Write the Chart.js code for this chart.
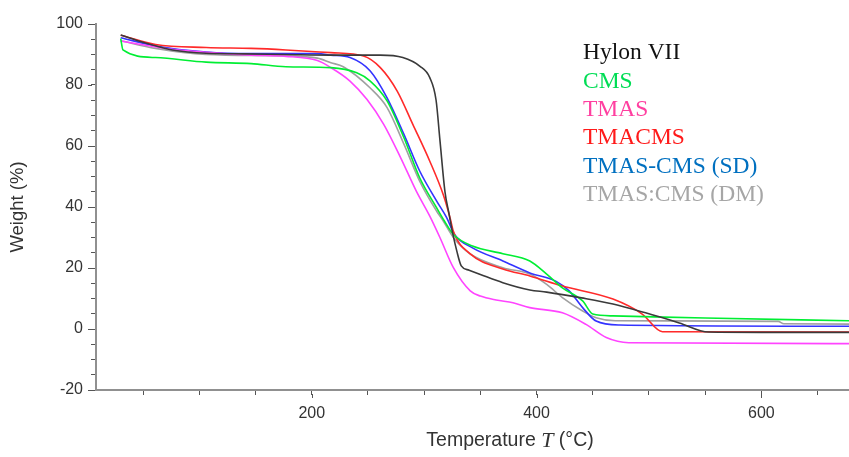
<!DOCTYPE html>
<html lang="en">
<head>
<meta charset="UTF-8">
<title>TGA curves</title>
<script src="https://cdn.jsdelivr.net/npm/chart.js"></script>
<style>
  html, body { margin: 0; padding: 0; background: #fff; }
  #wrap { width: 849px; height: 457px; }
</style>
</head>
<body>
<div id="wrap"><canvas id="tga" width="849" height="457"></canvas></div>
<script>
// temperature (°C) / weight (%)
const hylonT = [30, 50, 76, 106, 140, 177, 217, 261, 281, 296, 305, 310.6, 314, 318.5, 322, 325.6, 329, 333, 340, 350, 370, 394, 409, 440, 468, 497, 527, 553, 600, 678];
const hylonW = [96.4, 94, 91.5, 90.4, 90.2, 90, 89.8, 89.8, 89, 86.2, 82.4, 75, 62, 45, 38, 31, 25.6, 20.7, 19.3, 17.9, 15.2, 12.8, 12.1, 10.2, 8.2, 5.3, 2, -1, -1.1, -1.1];

const cmsT = [30, 32, 61, 106, 146, 177, 217, 240, 252, 267, 282, 296, 311, 318, 326, 343, 370, 394, 409, 423, 441, 450, 468, 550, 678];
const cmsW = [95.2, 91.5, 89, 87.5, 87, 86, 85.7, 84, 81.3, 74.8, 62.7, 49.6, 39.8, 35.4, 31, 27.2, 24.7, 22.3, 18, 13.5, 9.2, 4.9, 4.3, 3.6, 2.7];

const tmasT = [30, 76, 106, 146, 177, 205, 217, 234, 249, 264, 279, 293, 305, 314, 326, 341, 350, 364, 379, 394, 423, 444, 462, 482, 678];
const tmasW = [94.4, 91.7, 90.7, 89.8, 89.4, 88, 85.7, 81.3, 75.3, 67.1, 56.2, 45.2, 37, 30, 20.1, 12.5, 10.8, 9.5, 8.6, 7.0, 5.3, 1.5, -2.8, -4.5, -4.8];

const tmacmsT = [30, 61, 106, 146, 177, 217, 246, 261, 276, 290, 305, 317, 323, 326, 341, 370, 394, 423, 468, 494, 512, 678];
const tmacmsW = [96.3, 93.3, 92.3, 92, 91.5, 90.6, 89.5, 85.7, 78, 67, 55, 44, 36.5, 32, 24.6, 19.7, 17.4, 14.1, 9.8, 4.9, -0.9, -1.0];

const sdT = [30, 61, 106, 146, 205, 217, 234, 252, 267, 282, 296, 311, 320, 327, 343, 370, 394, 417, 429, 441, 453, 474, 678];
const sdW = [95.5, 92.8, 90.8, 90.3, 90.3, 89.8, 89, 84.6, 75.8, 63.8, 51.8, 42, 36.5, 31, 26.6, 22.3, 18.4, 15.7, 12.5, 7, 2.6, 1.3, 0.9];

const dmT = [30, 61, 106, 175, 205, 217, 228, 252, 267, 282, 296, 311, 317, 326, 341, 370, 394, 409, 423, 441, 453, 470, 615, 620, 678];
const dmW = [94.5, 92, 90, 89.5, 88.8, 87.3, 86, 79, 72.6, 60.6, 48.5, 38.7, 35.4, 30, 24.6, 20.1, 18, 14.6, 10.3, 5.9, 3.7, 2.7, 2.5, 1.7, 1.6];

const seriesNames = ['Hylon VII', 'CMS', 'TMAS', 'TMACMS', 'TMAS-CMS (SD)', 'TMAS:CMS (DM)'];
const lineColors = ['#3a3a3a', '#00ee33', '#ff44ff', '#ff2a2a', '#3333ff', '#a0a0a0'];
const legendColors = ['#111111', '#00dd55', '#ff3fa0', '#ff1a1a', '#0070c0', '#a6a6a6'];

const xTickLabels = [200, 400, 600];
const yTickLabels = [-20, 0, 20, 40, 60, 80, 100];

function pts(t, w) {
  return t.map((v, i) => ({ x: v, y: w[i] }));
}
const allT = [hylonT, cmsT, tmasT, tmacmsT, sdT, dmT];
const allW = [hylonW, cmsW, tmasW, tmacmsW, sdW, dmW];

const datasets = seriesNames.map((name, i) => ({
  label: name,
  data: pts(allT[i], allW[i]),
  borderColor: lineColors[i],
  borderWidth: 1.6,
  pointRadius: 0,
  fill: false,
  cubicInterpolationMode: 'monotone'
}));

// legend as coloured text, no boxes
const textLegend = {
  id: 'textLegend',
  afterDraw(chart) {
    const ctx = chart.ctx;
    ctx.save();
    ctx.font = '23.5px "Liberation Serif", "Times New Roman", serif';
    ctx.textBaseline = 'middle';
    ctx.textAlign = 'left';
    seriesNames.forEach((n, i) => {
      ctx.fillStyle = legendColors[i];
      ctx.fillText(n, 583, 53 + i * 28.4);
    });
    ctx.restore();
  }
};

// longer ticks at the labelled values + x title with italic T
const axisExtras = {
  id: 'axisExtras',
  afterDraw(chart) {
    const ctx = chart.ctx;
    const xs = chart.scales.x, ys = chart.scales.y;
    ctx.save();
    ctx.strokeStyle = '#555';
    ctx.lineWidth = 1;
    yTickLabels.forEach(v => {
      const py = Math.round(ys.getPixelForValue(v)) + 0.5;
      ctx.beginPath();
      ctx.moveTo(ys.right - 8, py);
      ctx.lineTo(ys.right - 4, py);
      ctx.stroke();
    });
    xTickLabels.forEach(v => {
      const px = Math.round(xs.getPixelForValue(v)) + 0.5;
      ctx.beginPath();
      ctx.moveTo(px, xs.top + 4);
      ctx.lineTo(px, xs.top + 8);
      ctx.stroke();
    });

    const a = 'Temperature ', b = 'T', c = ' (°C)';
    const sans = '19.5px "Liberation Sans", Arial, sans-serif';
    const ital = 'italic 22px "Liberation Serif", "Times New Roman", serif';
    ctx.font = sans;
    const wa = ctx.measureText(a).width, wc = ctx.measureText(c).width;
    ctx.font = ital;
    const wb = ctx.measureText(b).width;
    let x0 = 510 - (wa + wb + wc) / 2;
    const y0 = 441;
    ctx.fillStyle = '#333';
    ctx.textBaseline = 'middle';
    ctx.textAlign = 'left';
    ctx.font = sans; ctx.fillText(a, x0, y0);
    ctx.font = ital; ctx.fillText(b, x0 + wa, y0);
    ctx.font = sans; ctx.fillText(c, x0 + wa + wb, y0);
    ctx.restore();
  }
};

new Chart(document.getElementById('tga'), {
  type: 'line',
  data: { datasets },
  options: {
    responsive: false,
    animation: false,
    devicePixelRatio: 1,
    layout: { padding: { top: 24, right: 0, left: 0, bottom: 0 } },
    plugins: { legend: { display: false }, tooltip: { enabled: false } },
    scales: {
      x: {
        type: 'linear',
        min: 8,
        max: 678,
        afterFit(s) { s.height = 67; },
        border: { color: '#909090', width: 2 },
        grid: { drawOnChartArea: false, drawTicks: true, tickLength: 5, tickColor: '#555' },
        ticks: {
          stepSize: 50,
          includeBounds: false,
          autoSkip: false,
          maxRotation: 0,
          padding: 9,
          color: '#333',
          font: { family: '"Liberation Sans", Arial, sans-serif', size: 16 },
          callback: v => (xTickLabels.includes(v) ? String(v) : '')
        }
      },
      y: {
        min: -20,
        max: 100,
        afterFit(s) { s.width = 96; },
        border: { color: '#909090', width: 2 },
        grid: { drawOnChartArea: false, drawTicks: true, tickLength: 5, tickColor: '#555' },
        ticks: {
          stepSize: 5,
          autoSkip: false,
          padding: 8,
          color: '#333',
          font: { family: '"Liberation Sans", Arial, sans-serif', size: 16 },
          callback: v => (yTickLabels.includes(v) ? String(v) : '')
        },
        title: {
          display: true,
          text: 'Weight (%)',
          color: '#333',
          padding: { top: 7, bottom: 0 },
          font: { family: '"Liberation Sans", Arial, sans-serif', size: 18.5 }
        }
      }
    }
  },
  plugins: [textLegend, axisExtras]
});
</script>
</body>
</html>
